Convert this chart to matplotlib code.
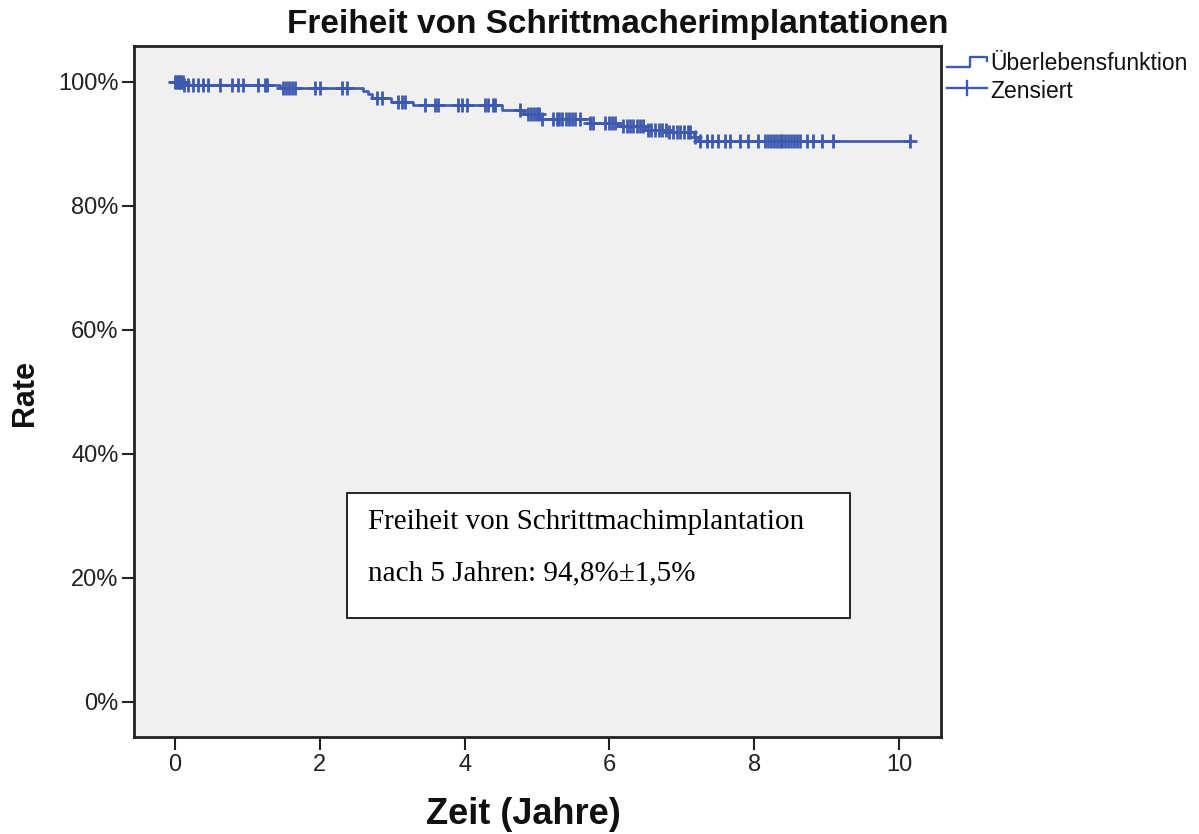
import matplotlib
matplotlib.use("Agg")
import matplotlib.pyplot as plt
from matplotlib.lines import Line2D
from matplotlib.patches import Rectangle
import numpy as np

# Kaplan-Meier step data (years, survival in %)
event_times = [0.0, 0.12, 1.45, 2.60, 2.66, 2.72, 2.98, 3.29, 4.52, 4.80, 4.86,
               5.04, 5.73, 6.12, 6.49, 6.80, 7.17, 7.22]
survival = [100.0, 99.5, 99.0, 98.6, 98.0, 97.4, 96.8, 96.3, 95.4, 95.0, 94.8,
            94.0, 93.4, 92.9, 92.3, 92.0, 91.2, 90.4]

# censored observations (years)
censored = [0.0, 0.02, 0.04, 0.05, 0.07, 0.09, 0.11, 0.13, 0.18, 0.25, 0.32,
            0.39, 0.46, 0.62, 0.79, 0.87, 0.94, 1.15, 1.24, 1.27, 1.49, 1.53,
            1.57, 1.62, 1.66, 1.93, 2.00, 2.31, 2.38, 2.79, 2.86, 3.08, 3.13,
            3.18, 3.45, 3.59, 3.63, 3.91, 3.96, 4.03, 4.28, 4.33, 4.39, 4.42,
            4.77, 4.88, 4.92, 4.96, 5.00, 5.03, 5.07, 5.22, 5.27, 5.31, 5.35,
            5.40, 5.44, 5.49, 5.53, 5.60, 5.73, 5.78, 5.94, 5.99, 6.03, 6.08,
            6.19, 6.24, 6.28, 6.33, 6.38, 6.42, 6.46, 6.53, 6.58, 6.63, 6.68,
            6.73, 6.78, 6.83, 6.88, 6.93, 6.98, 7.03, 7.08, 7.12, 7.18, 7.25,
            7.35, 7.42, 7.50, 7.60, 7.67, 7.80, 7.91, 8.05, 8.15, 8.19, 8.23,
            8.27, 8.31, 8.35, 8.39, 8.43, 8.47, 8.51, 8.55, 8.59, 8.63, 8.73,
            8.81, 8.94, 9.09, 10.15]

x_ticks = [0, 2, 4, 6, 8, 10]
y_ticks = [0, 20, 40, 60, 80, 100]

title = "Freiheit von Schrittmacherimplantationen"
x_label = "Zeit (Jahre)"
y_label = "Rate"
legend_labels = ["Überlebensfunktion", "Zensiert"]
box_lines = ["Freiheit von Schrittmachimplantation",
             "nach 5 Jahren: 94,8%\u00b11,5%"]

BLUE = "#3D5AB0"
W, H = 1199, 834
plt.rcParams["font.family"] = ["Liberation Sans", "DejaVu Sans"]


def px(x, y):
    # pixel position (from top-left) to figure fraction
    return x / W, 1 - y / H


fig = plt.figure(figsize=(W / 100, H / 100), dpi=100)
fig.patch.set_facecolor("white")
ax = fig.add_axes([134 / W, (H - 737) / H, (941 - 134) / W, (737 - 46) / H])
ax.set_facecolor("#F0F0F0")

t_arr = np.array(event_times)
s_arr = np.array(survival)
line_t = np.append(t_arr, censored[-1])
line_s = np.append(s_arr, s_arr[-1])
ax.step(line_t, line_s, where="post", color=BLUE, lw=1.9)

c_arr = np.array(censored)
idx = np.searchsorted(t_arr, c_arr, side="right") - 1
ax.plot(c_arr, s_arr[idx], ls="none", marker="+", ms=10.5, mew=2.0,
        color=BLUE)

ax.set_xlim(-0.566, 10.58)
ax.set_ylim(-5.65, 105.8)
ax.set_xticks(x_ticks)
ax.set_xticklabels([str(v) for v in x_ticks])
ax.set_yticks(y_ticks)
ax.set_yticklabels([f"{v}%" for v in y_ticks])
ax.tick_params(axis="both", direction="out", length=9, width=1.5,
               labelsize=17, color="#222222", labelcolor="#222222")
ax.tick_params(axis="y", pad=2)
ax.tick_params(axis="x", pad=3)
for sp in ax.spines.values():
    sp.set_linewidth(2.0)
    sp.set_color("#222222")

# titles
fig.text(*px(618, 24), title, ha="center", va="center", fontsize=24,
         fontweight="bold", color="#111111")
fig.text(*px(523, 814), x_label, ha="center", va="center", fontsize=26,
         fontweight="bold", color="#111111")
fig.text(*px(25, 393), y_label, ha="center", va="center", rotation=90,
         fontsize=22, fontweight="bold", color="#111111")

# legend
lx = [947, 970, 970, 987, 987]
ly = [66.7, 66.7, 56.5, 56.5, 61]
fig.add_artist(Line2D([x / W for x in lx], [1 - y / H for y in ly],
                      color=BLUE, lw=1.7))
fig.add_artist(Line2D([947 / W, 987 / W], [1 - 88 / H, 1 - 88 / H],
                      color=BLUE, lw=1.7))
fig.add_artist(Line2D([967 / W, 967 / W], [1 - 81 / H, 1 - 95 / H],
                      color=BLUE, lw=1.7))
fig.text(*px(990, 64), legend_labels[0], ha="left", va="center",
         fontsize=16.5, color="#111111")
fig.text(*px(990, 91), legend_labels[1], ha="left", va="center",
         fontsize=16.5, color="#111111")

# annotation box
bx0, by0 = px(347, 618)
bx1, by1 = px(850, 493)
fig.add_artist(Rectangle((bx0, by0), bx1 - bx0, by1 - by0,
                         transform=fig.transFigure, facecolor="white",
                         edgecolor="black", lw=1.2))
fig.text(*px(368, 529), box_lines[0], ha="left", va="baseline",
         fontsize=21, family="Liberation Serif", color="black")
fig.text(*px(368, 580), box_lines[1], ha="left", va="baseline",
         fontsize=21, family="Liberation Serif", color="black")

fig.savefig("out.png", dpi=100)
